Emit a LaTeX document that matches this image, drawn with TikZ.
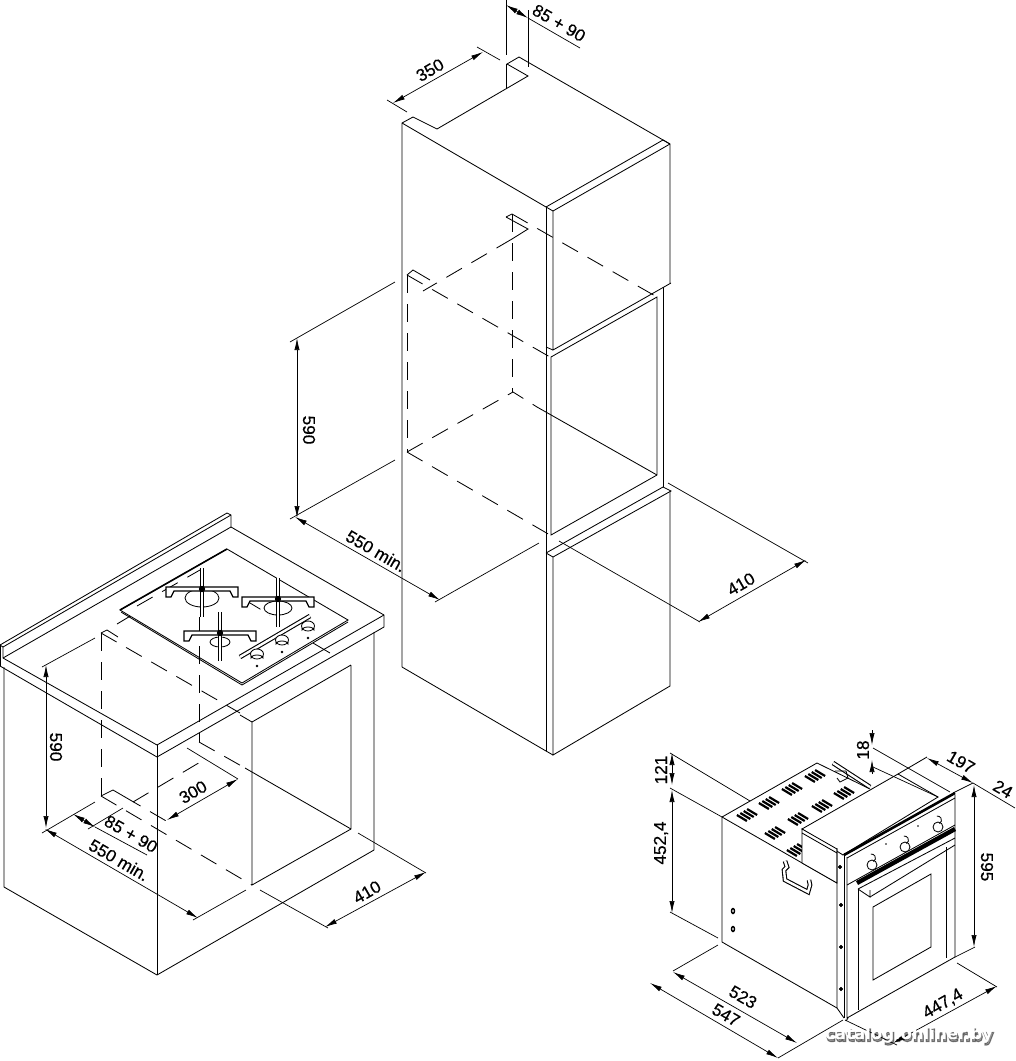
\documentclass[tikz,border=0pt]{standalone}
\usepackage{fontspec}
\setmainfont{Liberation Sans}
\newfontfamily\dimfont{Liberation Sans}[FakeBold=0.5]
\newfontfamily\markfont{DejaVu Sans Bold}
\newfontfamily\glowfont{DejaVu Sans Bold}[FakeBold=6]
\usetikzlibrary{arrows.meta}

\tikzset{
  wall/.style={draw, line width=.42pt},
  edgeheavy/.style={draw, line width=.8pt},
  hidden/.style={draw, line width=.42pt, dash pattern=on 9pt off 5.5pt},
  extline/.style={draw, line width=.35pt},
  dimline/.style={draw, line width=.35pt, {Latex[length=6pt,width=2.6pt]}-{Latex[length=6pt,width=2.6pt]}},
  dimtext/.style={font=\dimfont\fontsize{8.6}{9}\selectfont, inner sep=0pt},
  slot/.style={draw, line width=1.1pt},
  bar/.style={draw, line width=.55pt, double=white, double distance=1.2pt},
  bolt/.style={draw, fill=black, line width=.3pt}
}

\begin{document}
\begin{tikzpicture}[x=.5pt, y=-.5pt]
  \useasboundingbox (0,0) rectangle (1016,1061);

  % tall unit
  \draw[wall] (402,667) -- (402,123) -- (413,117) -- (437,129) -- (528,76) -- (507,64) -- (519,57) -- (670,144) -- (670,283);
  \draw[wall] (402,123) -- (546,207) -- (663,140);
  \draw[wall] (546,207) -- (553,211) -- (670,144);
  \draw[wall] (663,140) -- (670,144);
  \draw[wall] (546,207) -- (546,553);
  \draw[wall] (553,211) -- (553,350) -- (671,283);
  \draw[wall] (546,347) -- (553,350);
  \draw[wall] (551,357) -- (657,297) -- (657,475) -- (551,535) -- cycle;
  \draw[wall] (663,287) -- (663,487);
  \draw[wall] (537,407) -- (657,475);
  \draw[wall] (546,553) -- (663,487) -- (671,491) -- (553,557) -- (546,553);
  \draw[wall] (553,557) -- (553,755) -- (670,686) -- (670,491);
  \draw[wall] (402,667) -- (546,751) -- (553,755);
  \draw[wall] (546,553) -- (546,751);
  % hidden niche
  \draw[wall] (506,217) -- (512,214);
  \draw[wall] (506,217) -- (528,229) -- (512,239);
  \draw[hidden] (512,214) -- (657,297);
  \draw[hidden] (512,214) -- (512,392);
  \draw[hidden] (512,239) -- (423,291);
  \draw[wall] (407,275) -- (413,270) -- (430,280);
  \draw[hidden] (407,275) -- (550,357);
  \draw[hidden] (407,275) -- (407,452);
  \draw[hidden] (407,452) -- (550,535);
  \draw[hidden] (407,452) -- (513,392) -- (537,407);

  % dimensions of the tall unit
  \draw[extline] (506,0) -- (506,55);
  \draw[extline] (506,64) -- (506,88);
  \draw[extline] (528,10) -- (528,67);
  \draw[dimline] (506,5) -- (528,18);
  \draw[extline] (528,18) -- (580,48);
  \node[dimtext, rotate=-30] (top8590) at (559,23) {85 + 90};
  \draw[dimline] (393,103) -- (483,52);
  \draw[extline] (387,100) -- (407,112);
  \draw[extline] (477,47) -- (500,60);
  \node[dimtext, rotate=30] (top350) at (430,70) {350};
  \draw[extline] (290,342) -- (395,282);
  \draw[extline] (290,519) -- (395,460);
  \draw[dimline] (297,338) -- (297,518);
  \node[dimtext, rotate=-90] (top590) at (309,430) {590};
  \draw[dimline] (295,517) -- (440,600);
  \node[dimtext, rotate=-30] (top550) at (376,551) {550 min.};
  \draw[extline] (435,602) -- (539,543);
  \draw[extline] (559,541) -- (700,622);
  \draw[extline] (668,483) -- (808,563);
  \draw[dimline] (698,622) -- (806,560);
  \node[dimtext, rotate=30] (top410) at (741,584) {410};

  % worktop and base cabinet
  \draw[wall] (0,645) -- (227,513) -- (231,515) -- (231,527);
  \draw[wall] (3,647) -- (231,515);
  \draw[wall] (3,658) -- (231,527) -- (384,615) -- (384,627) -- (157,757) -- (0,666);
  \draw[wall] (0,645) -- (3,647) -- (3,658) -- (157,745) -- (384,615);
  \draw[wall] (0,645) -- (0,666);
  \draw[wall] (157,745) -- (157,975);
  \draw[wall] (4,667) -- (4,887) -- (157,975) -- (374,850) -- (374,632);
  \draw[wall] (351,665) -- (252,722) -- (252,885) -- (351,829) -- (351,665);
  \draw[wall] (252,722) -- (240,715);
  \draw[wall] (245,768) -- (351,829);
  % hidden lines of the base cabinet
  \draw[hidden] (101,633) -- (101,796);
  \draw[hidden] (199,617) -- (199,742);
  \draw[wall] (101,633) -- (107,630) -- (118,637);
  \draw[hidden] (101,633) -- (240,713);
  \draw[wall] (313,643) -- (330,653);
  \draw[hidden] (117,624) -- (137,612);
  \draw[hidden] (199,742) -- (245,768);
  \draw[wall] (101,796) -- (113,790) -- (125,797);
  \draw[hidden] (101,796) -- (252,885);
  \draw[hidden] (133,802) -- (207,758);
  \draw[hidden] (125,797) -- (168,822);

  % hob plate
  \draw[wall, fill=white] (120,610) -- (227,549) -- (348,620) -- (242,683) -- cycle;
  \draw[edgeheavy] (120,610) -- (227,549);
  \draw[wall] (121,612) -- (242,685) -- (348,622);
  \draw[hidden] (137,606) -- (200,570);
  \draw[hidden] (245,600) -- (270,615);
  \draw[hidden] (199,617) -- (199,683);
  % burners
  \foreach \cx/\cy/\rx/\ry/\top/\bot/\hy in {202/598/17/9/568/617/588,278/608/14/7/578/627/598,220/642/10/5/612/661/632}{
    \draw[wall, fill=white] (\cx,\cy) ellipse [x radius=\rx, y radius=\ry];
    \draw[wall, fill=white, line width=.6pt] ({\cx-36},{\hy-1}) -- ({\cx-36},{\hy+9}) -- ({\cx-31},{\hy+9}) -- ({\cx-28},{\hy+3}) -- ({\cx+28},{\hy+3}) -- ({\cx+31},{\hy+9}) -- ({\cx+36},{\hy+9}) -- ({\cx+36},{\hy-1}) -- cycle;
    \draw[bar] (\cx,\top) -- (\cx,\bot);
    \fill ({\cx},{\hy+1}) circle [radius=3.2];
  }
  % knobs
  \draw[bar] (240,657) -- (310,616);
  \foreach \kx/\ky in {257/654,282/640,308/626}{
    \draw[wall, fill=white] (\kx,\ky) ellipse [x radius=6.5, y radius=5];
    \draw[wall] (\kx-6,\ky+2) -- (\kx-6,\ky+4) arc [start angle=180, end angle=360, x radius=6, y radius=3] -- (\kx+6,\ky+2);
    \fill (\kx,\ky+12) circle [radius=1.4];
  }

  % dimensions of the base cabinet
  \draw[extline] (42,667) -- (95,638);
  \draw[dimline] (46,665) -- (46,828);
  \node[dimtext, rotate=-90] (low590) at (56,747) {590};
  \draw[extline] (42,833) -- (95,802);
  \draw[dimline] (45,829) -- (198,918);
  \node[dimtext, rotate=-30] (low550) at (119,860) {550 min.};
  \draw[dimline] (73,814) -- (95,827);
  \draw[extline] (95,827) -- (147,855);
  \draw[extline] (88,829) -- (123,808);
  \node[dimtext, rotate=-30] (low8590) at (131,834) {85 + 90};
  \draw[extline] (193,920) -- (246,890);
  \draw[extline] (187,748) -- (238,779);
  \draw[dimline] (167,820) -- (238,779);
  \node[dimtext, rotate=30] (low300) at (193,792) {300};
  \draw[extline] (358,833) -- (426,873);
  \draw[extline] (260,890) -- (328,928);
  \draw[dimline] (325,927) -- (426,872);
  \node[dimtext, rotate=30] (low410) at (367,892) {410};

  % oven body
  \draw[wall] (722,817) -- (722,942) -- (837,1008);
  \draw[wall] (722,817) -- (817,763) -- (870,789);
  \draw[wall] (722,817) -- (837,883);
  \foreach \sx/\sy in {747/815,769/803,792/789,815/776,775/833,798/819,822/806,844/793,797/850}{
    \foreach \k in {-1.5,-.5,.5,1.5}
      \draw[slot] ({\sx+\k*3.4-5},{\sy-\k*2-3}) -- ({\sx+\k*3.4+5},{\sy-\k*2+3});
  }
  % rail at the back
  \draw[bar] (833,763) -- (870,787);
  \draw[wall] (835,771) -- (846,771) -- (848,778) -- (840,782) -- (837,778);
  % wire handle
  \draw[bar] (785,861) -- (787,867) -- (784,870) -- (785,880) -- (808,892) -- (810,885) -- (809,880);
  % cover box
  \draw[wall, fill=white] (802,829) -- (898,774) -- (938,797) -- (843,855) -- cycle;
  \draw[wall, fill=white] (802,829) -- (837,849) -- (837,883) -- (802,863) -- cycle;
  \draw[wall] (802,833) -- (837,853);
  \draw[wall] (898,774) -- (927,757);
  % front strip and door
  \draw[wall] (837,848) -- (837,1008) -- (844,1018);
  \draw[wall] (844,853) -- (844,1018);
  \foreach \bx/\by in {840/867,841/905,841/947,841/989}
    \draw[bolt] (\bx,\by) circle [radius=1.8];
  \draw[wall] (847,857) -- (847,1018) -- (955,957) -- (955,795);
  \draw[edgeheavy, line width=1.3pt] (844,855) -- (955,793);
  \draw[wall] (847,858) -- (955,798);
  \draw[wall] (847,885) -- (955,825);
  \draw[draw, line width=2.2pt] (857,883) -- (955,829);
  \draw[wall] (858,889) -- (955,838);
  \draw[wall] (870,897) -- (955,845);
  \draw[wall] (858,889) -- (870,897) -- (870,890);
  \draw[wall] (858,889) -- (858,1010);
  \draw[wall] (946,847) -- (946,958);
  \draw[wall] (873,907) -- (931,874) -- (931,947) -- (873,980) -- cycle;
  \draw[wall] (848,1018) -- (846,1021);
  % oven controls
  \foreach \kx/\ky in {872/865,905/847,938/827}{
    \draw[wall, fill=white] (\kx,\ky) circle [radius=5];
    \draw[wall] (\kx+1.5,\ky-3.5) arc [start angle=60, end angle=-100, radius=4];
  }
  \fill (886,844) circle [radius=.9] (918,826) circle [radius=.9];
  \foreach \hy in {911,929}
    \draw[wall, line width=.7pt] (733,\hy) ellipse [x radius=1.5, y radius=2.5];

  % dimensions of the oven
  \draw[extline] (670,753) -- (750,801);
  \draw[extline] (670,788) -- (722,817);
  \draw[extline] (670,912) -- (718,938);
  \draw[dimline] (672,753) -- (672,785);
  \draw[dimline] (672,790) -- (672,913);
  \node[dimtext, rotate=90] (ovn121) at (661,770) {121};
  \node[dimtext, rotate=90] (ovn452) at (661,843) {452,4};
  \draw[extline] (673,971) -- (718,945);
  \draw[dimline] (673,972) -- (797,1043);
  \node[dimtext, rotate=-30] (ovn523) at (743,997) {523};
  \draw[dimline] (650,983) -- (778,1058);
  \node[dimtext, rotate=-30] (ovn547) at (726,1015) {547};
  \draw[extline] (778,1058) -- (843,1020);
  \draw[extline] (845,1020) -- (897,1045);
  \draw[dimline] (893,1043) -- (997,986);
  \draw[extline] (957,963) -- (997,987);
  \node[dimtext, rotate=30] (ovn447) at (943,1004) {447,4};
  \draw[extline] (955,957) -- (975,947);
  \draw[dimline] (974,785) -- (974,947);
  \node[dimtext, rotate=-90] (ovn595) at (987,867) {595};
  \draw[extline] (953,793) -- (973,783);
  \draw[extline] (973,783) -- (1015,808);
  \draw[dimline] (927,758) -- (973,783);
  \node[dimtext, rotate=-30] (ovn197) at (961,762) {197};
  \node[dimtext, rotate=-30] (ovn24) at (1003,789) {24};
  \draw[extline] (873,748) -- (950,792);
  \draw[extline] (873,767) -- (938,797);
  \draw[line width=.35pt, -{Latex[length=6pt,width=2.6pt]}] (872,730) -- (872,745);
  \draw[line width=.35pt, -{Latex[length=6pt,width=2.6pt]}] (872,774) -- (872,760);
  \node[dimtext, rotate=90] (ovn18) at (863,750) {18};

  % mark of the catalogue
  \node[font=\glowfont\fontsize{8.3}{9}\selectfont, text=black, opacity=.42, inner sep=0pt] (markglow) at (910,1037) {catalog.onliner.by};
  \node[font=\markfont\fontsize{8.3}{9}\selectfont, text=white, inner sep=0pt] (mark) at (909,1035) {catalog.onliner.by};
\end{tikzpicture}
\end{document}
